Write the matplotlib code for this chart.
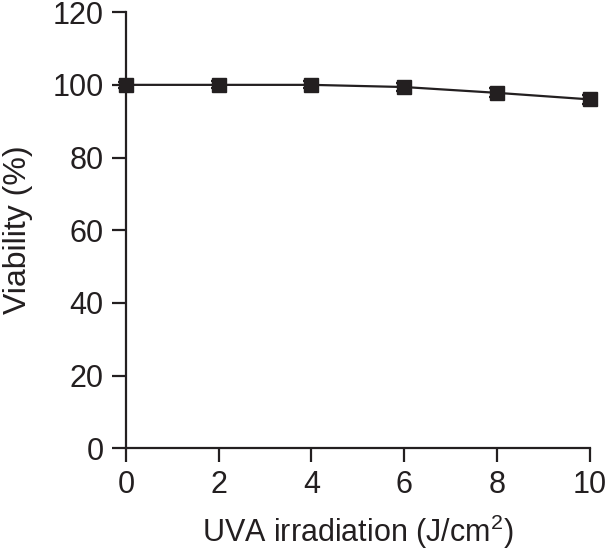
import matplotlib.pyplot as plt

plt.rcParams["font.family"] = ["Liberation Sans", "DejaVu Sans"]
plt.rcParams["mathtext.default"] = "regular"

# data
uva_dose = [0, 2, 4, 6, 8, 10]
viability = [100.0, 100.0, 100.0, 99.4, 97.8, 96.0]
viability_err = [0.8, 1.0, 1.0, 1.0, 1.2, 1.3]

ink = "#231f20"

fig = plt.figure(figsize=(6.08, 5.54), dpi=100)
ax = fig.add_axes([0.207, 0.191, 0.763, 0.787])

ax.errorbar(uva_dose, viability, yerr=viability_err, color=ink,
            marker="s", markersize=10, linewidth=1.6, capsize=6,
            capthick=1.6, elinewidth=1.6, clip_on=False, zorder=3)

ax.set_xlim(0, 10)
ax.set_ylim(0, 120)
ax.set_xticks(range(0, 11, 2))
ax.set_yticks(range(0, 121, 20))

for side in ["top", "right"]:
    ax.spines[side].set_visible(False)
for side in ["left", "bottom"]:
    ax.spines[side].set_linewidth(1.6)
    ax.spines[side].set_color(ink)

ax.tick_params(direction="out", length=10, width=1.6, labelsize=22,
               colors=ink, pad=6)

ax.set_xlabel("UVA irradiation (J/cm$^2$)", fontsize=22, color=ink, labelpad=9)
ax.set_ylabel("Viability (%)", fontsize=23, color=ink)
ax.yaxis.set_label_coords(-0.2, 0.5)

plt.savefig("out.png", dpi=100)
